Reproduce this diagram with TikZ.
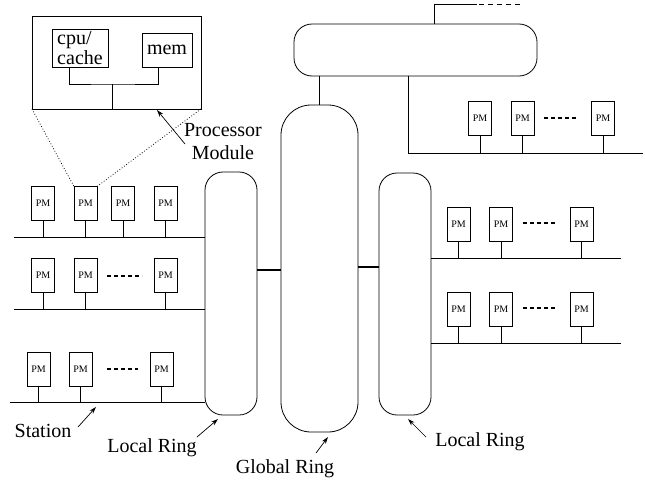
\documentclass[tikz,border=0pt]{standalone}
\usepackage{fontspec}
\setmainfont{Liberation Serif}
\usetikzlibrary{arrows.meta}
\begin{document}
\begin{tikzpicture}[x=1pt,y=-1pt,
  line width=0.8pt,
  pmbox/.style={draw, minimum width=23pt, minimum height=34pt, inner sep=0pt, outer sep=0pt,
    font=\fontsize{10}{12}\selectfont},
  ring/.style={draw, inner sep=0pt, outer sep=0pt},
  unitbox/.style={draw, inner sep=0pt, outer sep=0pt},
  link/.style={line width=1.5pt},
  more/.style={dash pattern=on 4pt off 3pt, line width=1.4pt},
  bigfont/.style={font=\fontsize{20}{23}\selectfont},
  caption/.style={bigfont, inner sep=0pt, anchor=base},
  pointer/.style={-{Stealth[length=7pt,width=4.5pt]}, line width=0.7pt},
]
\path[use as bounding box] (0,0) rectangle (645,482);

% ---------- rings ----------
\node[ring, rounded corners=18pt, minimum width=52pt, minimum height=243pt] (lr) at (231,293.5) {};
\node[ring, rounded corners=30pt, minimum width=77pt, minimum height=327pt] (gr) at (319.5,268.5) {};
\node[ring, rounded corners=18pt, minimum width=52pt, minimum height=242pt] (rr) at (405,294) {};
\node[ring, rounded corners=18pt, minimum width=243pt, minimum height=52pt] (tr) at (415.5,50) {};

\draw[link] (lr.east |- 0,270) -- (gr.west |- 0,270);
\draw[link] (gr.east |- 0,267) -- (rr.west |- 0,267);
\draw[link] (gr.north) -- (gr.north |- tr.south);

% link leaving the top ring
\coordinate (up) at (434,4);
\coordinate (upend) at (477,4);
\draw (tr.north -| up) -- (up) -- (upend);
\draw[dash pattern=on 5pt off 4pt] (upend) ++(2,0) -- (522,4);

% ---------- processor module detail ----------
\node[unitbox, minimum width=169pt, minimum height=93pt] (pmod) at (116.5,62.5) {};
\node[unitbox, minimum width=56pt, minimum height=38pt, align=left,
      font=\fontsize{20}{17}\selectfont] (cpu) at (80,48) {cpu/\\cache};
\node[unitbox, minimum width=50pt, minimum height=34pt, bigfont] (mem) at (167,50) {mem};
\coordinate (jn) at (112,84);
\draw ([xshift=-11pt]cpu.south) |- (jn) -| ([xshift=-9pt]mem.south);
\draw (jn) -- (jn |- pmod.south);

% ---------- left stations ----------
\foreach \n/\x in {a/43, b/85.5, c/123, d/165.5}
  \node[pmbox] (l1\n) at (\x,203.5) {PM};
\foreach \n/\x in {a/43, b/85.5, c/165.5}
  \node[pmbox] (l2\n) at (\x,275.5) {PM};
\foreach \n/\x in {a/38.5, b/80.5, c/161.5}
  \node[pmbox] (l3\n) at (\x,369) {PM};

\coordinate (bus1) at (14,237);
\coordinate (bus2) at (14,309);
\coordinate (bus3) at (10,402);
\draw (bus1) -- (bus1 -| lr.west);
\draw (bus2) -- (bus2 -| lr.west);
\draw (bus3) -- (bus3 -| lr.west);
\foreach \n in {a,b,c,d} \draw (l1\n.south) -- (l1\n.south |- bus1);
\foreach \n in {a,b,c} {
  \draw (l2\n.south) -- (l2\n.south |- bus2);
  \draw (l3\n.south) -- (l3\n.south |- bus3);
}
\draw[more] ([xshift=10pt,yshift=-0.5pt]l2b.east) -- ([xshift=-12pt,yshift=-0.5pt]l2c.west);
\draw[more] ([xshift=15pt]l3b.east) -- ([xshift=-12pt]l3c.west);

\draw[dotted] (pmod.south west) -- (l1b.north west);
\draw[dotted] (pmod.south east) -- (l1b.north east);

% ---------- station on the top ring ----------
\foreach \n/\x in {a/480, b/522.5, c/603}
  \node[pmbox] (t\n) at (\x,118) {PM};
\coordinate (drop) at (408,153);
\coordinate (busT) at (643,153);
\draw (tr.south -| drop) -- (drop) -- (busT);
\foreach \n in {a,b,c} \draw (t\n.south) -- (t\n.south |- drop);
\draw[more] ([xshift=10pt]tb.east) -- ([xshift=-15pt]tc.west);

% ---------- right stations ----------
\foreach \n/\x in {a/458.5, b/501, c/581.5} {
  \node[pmbox] (ra\n) at (\x,224.5) {PM};
  \node[pmbox] (rb\n) at (\x,309.5) {PM};
}
\coordinate (busA) at (621,258);
\coordinate (busB) at (621,343);
\draw (rr.east |- busA) -- (busA);
\draw (rr.east |- busB) -- (busB);
\foreach \n in {a,b,c} {
  \draw (ra\n.south) -- (ra\n.south |- busA);
  \draw (rb\n.south) -- (rb\n.south |- busB);
}
\draw[more] ([xshift=10pt,yshift=1.5pt]rab.east) -- ([xshift=-15pt,yshift=1.5pt]rac.west);
\draw[more] ([xshift=10pt,yshift=1.5pt]rbb.east) -- ([xshift=-15pt,yshift=1.5pt]rbc.west);

% ---------- captions ----------
\node[bigfont, inner sep=0pt, align=center, anchor=north] (pmlab) at (223,123) {Processor\\Module};
\node[caption] (stlab) at (43,437) {Station};
\node[caption] (lrlab) at (152,452) {Local Ring};
\node[caption] (grlab) at (285,473) {Global Ring};
\node[caption] (rrlab) at (480,446) {Local Ring};

\coordinate (pmtail) at (185,144);
\coordinate (sttail) at (78,427);
\coordinate (lrtail) at (197,437);
\coordinate (grtail) at (316,453);
\coordinate (rrtail) at (426,437);
\draw[pointer] (pmtail) -- (157,110);
\draw[pointer] (sttail) -- (96,407);
\draw[pointer] (lrtail) -- (218,419);
\draw[pointer] (grtail) -- (328,437);
\draw[pointer] (rrtail) -- (408,419);
\end{tikzpicture}
\end{document}
